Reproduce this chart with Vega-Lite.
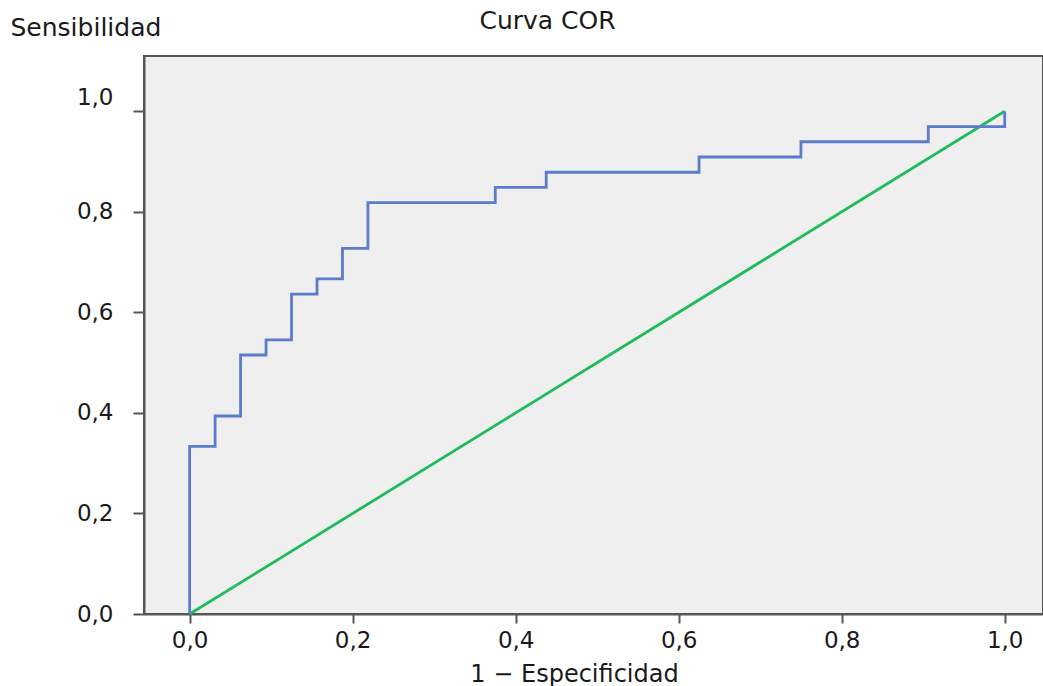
{
  "$schema": "https://vega.github.io/schema/vega-lite/v6.json",
  "width": 899,
  "height": 558,
  "autosize": {"type": "none"},
  "padding": {"left": 144, "top": 56, "right": 0, "bottom": 72},
  "background": "white",
  "config": {
    "view": {"fill": "#efefef", "stroke": "#555555", "strokeWidth": 2},
    "font": "DejaVu Sans"
  },
  "title": {
    "text": "Curva COR",
    "font": "DejaVu Sans",
    "fontSize": 25,
    "fontWeight": "normal",
    "color": "#1a1a1a",
    "anchor": "middle",
    "dx": -46,
    "dy": 64,
    "baseline": "alphabetic",
    "offset": 25
  },
  "datasets": {
    "roc": [
      {"order": 0, "fpr": 0, "tpr": 0},
      {"order": 1, "fpr": 0, "tpr": 0.3333},
      {"order": 2, "fpr": 0.03125, "tpr": 0.3333},
      {"order": 3, "fpr": 0.03125, "tpr": 0.3939},
      {"order": 4, "fpr": 0.0625, "tpr": 0.3939},
      {"order": 5, "fpr": 0.0625, "tpr": 0.5152},
      {"order": 6, "fpr": 0.09375, "tpr": 0.5152},
      {"order": 7, "fpr": 0.09375, "tpr": 0.5455},
      {"order": 8, "fpr": 0.125, "tpr": 0.5455},
      {"order": 9, "fpr": 0.125, "tpr": 0.6364},
      {"order": 10, "fpr": 0.15625, "tpr": 0.6364},
      {"order": 11, "fpr": 0.15625, "tpr": 0.6667},
      {"order": 12, "fpr": 0.1875, "tpr": 0.6667},
      {"order": 13, "fpr": 0.1875, "tpr": 0.7273},
      {"order": 14, "fpr": 0.21875, "tpr": 0.7273},
      {"order": 15, "fpr": 0.21875, "tpr": 0.8182},
      {"order": 16, "fpr": 0.375, "tpr": 0.8182},
      {"order": 17, "fpr": 0.375, "tpr": 0.8485},
      {"order": 18, "fpr": 0.4375, "tpr": 0.8485},
      {"order": 19, "fpr": 0.4375, "tpr": 0.8788},
      {"order": 20, "fpr": 0.625, "tpr": 0.8788},
      {"order": 21, "fpr": 0.625, "tpr": 0.9091},
      {"order": 22, "fpr": 0.75, "tpr": 0.9091},
      {"order": 23, "fpr": 0.75, "tpr": 0.9394},
      {"order": 24, "fpr": 0.90625, "tpr": 0.9394},
      {"order": 25, "fpr": 0.90625, "tpr": 0.9697},
      {"order": 26, "fpr": 1, "tpr": 0.9697},
      {"order": 27, "fpr": 1, "tpr": 1}
    ],
    "diag": [
      {"order": 0, "fpr": 0, "tpr": 0},
      {"order": 1, "fpr": 1, "tpr": 1}
    ]
  },
  "encoding": {
    "x": {
      "field": "fpr",
      "type": "quantitative",
      "scale": {"domain": [-0.056, 1.047], "nice": false, "zero": false},
      "axis": {
        "values": [0, 0.2, 0.4, 0.6, 0.8, 1],
        "labelExpr": "replace(format(datum.value, '.1f'), '.', ',')",
        "grid": false,
        "title": "1 − Especificidad",
        "titleFont": "DejaVu Sans",
        "titleFontSize": 24,
        "titleFontWeight": "normal",
        "titleColor": "#1a1a1a",
        "titleX": 430,
        "titleY": 67,
        "titleAlign": "center",
        "titleBaseline": "alphabetic",
        "labelFont": "DejaVu Sans",
        "labelFontSize": 23,
        "labelColor": "#1a1a1a",
        "labelPadding": 6,
        "tickSize": 9,
        "tickWidth": 2,
        "tickColor": "#555555",
        "domainColor": "#555555",
        "domainWidth": 2,
        "labelFlush": false
      }
    },
    "y": {
      "field": "tpr",
      "type": "quantitative",
      "scale": {"domain": [0, 1.11], "nice": false, "zero": false},
      "axis": {
        "values": [0, 0.2, 0.4, 0.6, 0.8, 1],
        "labelExpr": "replace(format(datum.value, '.1f'), '.', ',')",
        "grid": false,
        "title": "Sensibilidad",
        "titleFont": "DejaVu Sans",
        "titleFontSize": 25,
        "titleFontWeight": "normal",
        "titleColor": "#1a1a1a",
        "titleAngle": 0,
        "titleX": -134,
        "titleY": -21,
        "titleAlign": "left",
        "titleBaseline": "alphabetic",
        "labelFont": "DejaVu Sans",
        "labelFontSize": 23,
        "labelColor": "#1a1a1a",
        "labelPadding": 20,
        "labelOffset": {"condition": {"test": "datum.value == 1", "value": -14}, "value": 0},
        "tickSize": 11,
        "tickWidth": 2,
        "tickColor": "#555555",
        "domainColor": "#555555",
        "domainWidth": 2,
        "labelFlush": false
      }
    },
    "order": {"field": "order", "type": "quantitative"}
  },
  "layer": [
    {
      "data": {"name": "diag"},
      "mark": {"type": "line", "color": "#1fbb5c", "strokeWidth": 2.8}
    },
    {
      "data": {"name": "roc"},
      "mark": {"type": "line", "color": "#5b7ccc", "strokeWidth": 2.8}
    }
  ]
}
